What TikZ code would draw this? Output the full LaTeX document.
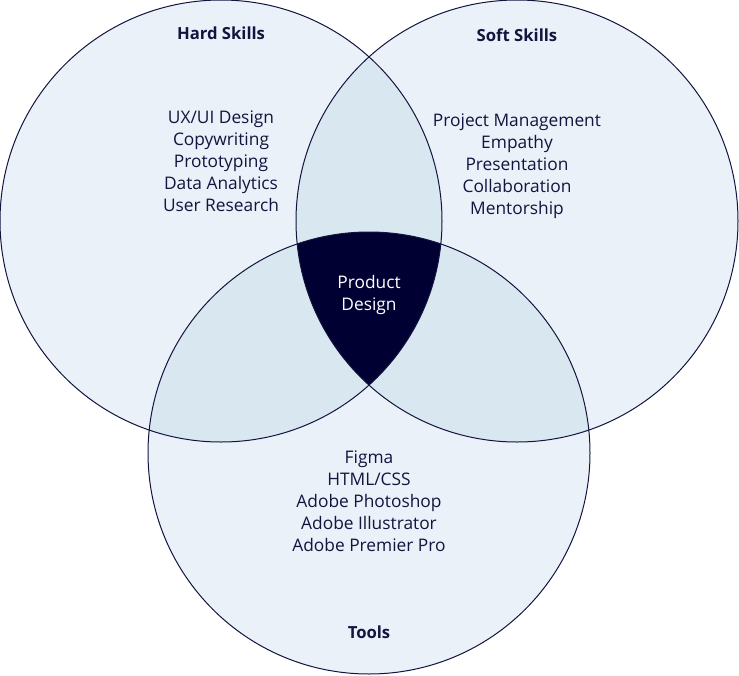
\documentclass[tikz,border=0pt]{standalone}
\usepackage{fontspec}
\setmainfont{Open Sans}
\usetikzlibrary{positioning}
\definecolor{setfill}{HTML}{EAF1F8}
\definecolor{pairfill}{HTML}{D8E7F0}
\definecolor{corefill}{HTML}{000033}
\definecolor{inkblue}{HTML}{14143F}

\begin{document}
\begin{tikzpicture}[x=0.75pt, y=-0.75pt,
    setcircle/.style={circle, minimum size=331.5pt, inner sep=0pt, fill=setfill},
    title/.style={font=\bfseries\fontsize{12.5}{15}\selectfont, text=inkblue},
    items/.style={align=center, font=\fontsize{13}{16.5}\selectfont, text=inkblue}]
    \useasboundingbox (0,0) rectangle (739,675);
    \def\rad{165.75pt}

    % Circles
    \node [setcircle] (hard) at (221,221) {};
    \node [setcircle] (soft) at (517,221) {};
    \node [setcircle] (tools) at (369,453) {};

    % Overlaps
    \begin{scope}
      \clip (hard.center) circle (\rad);
      \fill [pairfill] (soft.center) circle (\rad);
      \fill [pairfill] (tools.center) circle (\rad);
    \end{scope}
    \begin{scope}
      \clip (soft.center) circle (\rad);
      \fill [pairfill] (tools.center) circle (\rad);
      \clip (tools.center) circle (\rad);
      \fill [corefill] (hard.center) circle (\rad);
    \end{scope}

    % Outlines
    \foreach \c in {hard,soft,tools}
      \draw [inkblue, line width=0.75pt] (\c.center) circle (\rad);

    % Titles
    \node [title] (hardtitle) at (221,33) {Hard Skills};
    \node [title] (softtitle) at (517,35) {Soft Skills};
    \node [title] (toolstitle) at (369,632) {Tools};

    % Lists
    \node [items] (hardlist) at (221,161) {UX/UI Design\\Copywriting\\Prototyping\\Data Analytics\\User Research};
    \node [items] (softlist) at (517,166) {Project Management\\Empathy\\Presentation\\Collaboration\\Mentorship};
    \node [items] (toolslist) at (369,501) {Figma\\HTML/CSS\\Adobe Photoshop\\Adobe Illustrator\\Adobe Premier Pro};
    \node [items, text=white] (core) at (369,295) {Product\\Design};
  \end{tikzpicture}
\end{document}
